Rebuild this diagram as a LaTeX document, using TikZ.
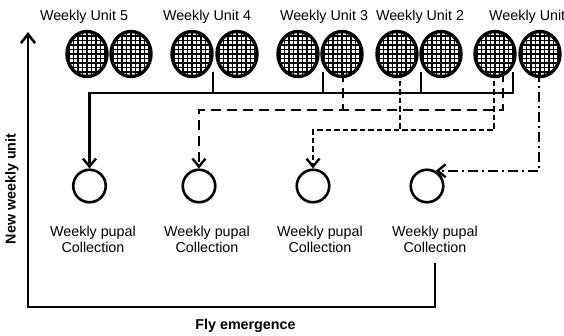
\documentclass[tikz,border=0pt]{standalone}
\usepackage{fontspec}
\setmainfont{Liberation Sans}
\usetikzlibrary{arrows.meta,shapes.geometric}
\pgfdeclarelayer{bg}
\pgfsetlayers{bg,main}
\begin{document}
\begin{tikzpicture}[x=1pt,y=-1pt,
  unit/.style={ellipse, draw, line width=3.4pt, minimum width=40pt, minimum height=45pt, inner sep=0pt,
    path picture={\draw[line width=1.1pt, step=4.5pt] (path picture bounding box.south west) grid (path picture bounding box.north east);}},
  coll/.style={circle, draw, line width=2.6pt, minimum size=32.5pt, inner sep=0pt},
  lab/.style={font=\fontsize{14.3}{16}\selectfont, inner sep=0pt},
  axlab/.style={font=\fontsize{14.3}{16}\selectfont\bfseries, inner sep=0pt},
  conn/.style={line width=2.4pt},
  dashA/.style={conn, dash pattern=on 10pt off 6pt},
  dashB/.style={conn, dash pattern=on 5.5pt off 3pt},
  dashdotc/.style={conn, dash pattern=on 10pt off 4pt on 2pt off 4pt},
  arr/.style={-{Straight Barb[length=8pt,width=13pt]}},
  axis/.style={line width=2.6pt}
]
\useasboundingbox (0,0) rectangle (564,335);

\coordinate (s4) at (213,72); \coordinate (s3) at (323,72);
\coordinate (s2) at (421,72); \coordinate (s1) at (513,72);
\coordinate (sh) at (513,93);
\coordinate (d3) at (343,72); \coordinate (d1) at (503,72);
\coordinate (dh) at (503,110);
\coordinate (f2) at (400,72); \coordinate (f1) at (494,72);
\coordinate (fh) at (494,130);
\coordinate (g1) at (539,72);

% weekly units
\node[unit] (u5a) at (87,54) {};
\node[unit] (u5b) at (131,54) {};
\node[unit] (u4a) at (192,54) {};
\node[unit] (u4b) at (237,54) {};
\node[unit] (u3a) at (298,54) {};
\node[unit] (u3b) at (342,54) {};
\node[unit] (u2a) at (397,54) {};
\node[unit] (u2b) at (441,54) {};
\node[unit] (u1a) at (495,54) {};
\node[unit] (u1b) at (540,54) {};

\node[lab, anchor=base] (t5) at (84,20) {Weekly Unit 5};
\node[lab, anchor=base] (t4) at (207,20) {Weekly Unit 4};
\node[lab, anchor=base] (t3) at (324,20) {Weekly Unit 3};
\node[lab, anchor=base] (t2) at (420,20) {Weekly Unit 2};
\node[lab, anchor=base west] (t1) at (489,20) {Weekly Unit};

% collections
\node[coll] (c1) at (89.5,186) {};
\node[coll] (c2) at (199,186) {};
\node[coll] (c3) at (313,186) {};
\node[coll] (c4) at (427,186) {};

\node[lab, align=center, anchor=north] (l1) at (93,225.6) {Weekly pupal\\Collection};
\node[lab, align=center, anchor=north] (l2) at (207,225.6) {Weekly pupal\\Collection};
\node[lab, align=center, anchor=north] (l3) at (320,225.6) {Weekly pupal\\Collection};
\node[lab, align=center, anchor=north] (l4) at (435,225.6) {Weekly pupal\\Collection};

\begin{pgfonlayer}{bg}
% solid: units 4,3,2,1 -> collection 1
\draw[conn,arr] (s1) -- (sh) -| (c1.north);
\draw[conn] (s4) -- (s4 |- sh);
\draw[conn] (s3) -- (s3 |- sh);
\draw[conn] (s2) -- (s2 |- sh);
% long dashed -> collection 2
\draw[dashA,arr] (d1) -- (dh) -| (c2.north);
\draw[dashA] (d3) -- (d3 |- dh);
% fine dashed -> collection 3
\draw[dashB,arr] (f1) -- (fh) -| (c3.north);
\draw[dashB] (f2) -- (f2 |- fh);
% dash dot -> collection 4
\draw[dashdotc,arr] (g1) |- (c4.60);
\end{pgfonlayer}

% axes
\coordinate (ytip) at (28,32);
\coordinate (o) at (28,307);
\coordinate (xe) at (435,263);
\draw[axis,{Straight Barb[length=9pt,width=14pt]}-] (ytip) -- (o) -| (xe);
\node[axlab, rotate=90] (ny) at (12,189) {New weekly unit};
\node[axlab, anchor=base] (fx) at (245.5,329) {Fly emergence};
\end{tikzpicture}
\end{document}
